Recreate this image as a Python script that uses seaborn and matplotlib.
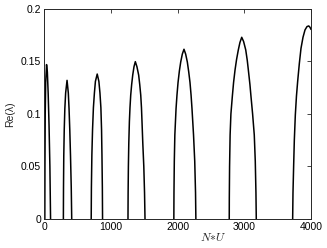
import matplotlib
matplotlib.use("Agg")
import matplotlib.pyplot as plt
import seaborn as sns
import pandas as pd

# ---- data (N*U vs Re(lambda)), one arc per lobe ----
b1_x = [12, 14, 18, 25, 38, 50, 62, 75, 88, 98]
b1_y = [0.0, 0.05, 0.1, 0.13, 0.147, 0.14, 0.12, 0.09, 0.05, 0.0]

b2_x = [290, 292, 296, 303, 312, 324, 345, 364, 375, 386, 397, 408, 415]
b2_y = [0.0, 0.03, 0.06, 0.085, 0.105, 0.12, 0.132, 0.12, 0.105, 0.085, 0.06, 0.03, 0.0]

b3_x = [707, 710, 717, 727, 740, 755, 770, 797, 822, 838, 852, 862, 868, 874, 877]
b3_y = [0.0, 0.03, 0.061, 0.085, 0.106, 0.12, 0.131, 0.138, 0.131, 0.12, 0.106, 0.085, 0.061, 0.03, 0.0]

b4_x = [1258, 1260, 1264, 1270, 1279, 1288, 1299, 1313, 1329, 1348, 1368,
        1392, 1418, 1434, 1449, 1460, 1468, 1480, 1495, 1506, 1513]
b4_y = [0.0, 0.025, 0.05, 0.072, 0.0927, 0.106, 0.118, 0.128, 0.137, 0.145, 0.1498,
        0.145, 0.137, 0.128, 0.118, 0.106, 0.0927, 0.072, 0.05, 0.025, 0.0]

b5_x = [1945, 1947, 1952, 1960, 1978, 1992, 2008, 2028, 2048, 2072, 2097,
        2122, 2147, 2168, 2187, 2203, 2217, 2240, 2258, 2270, 2275]
b5_y = [0.0, 0.025, 0.055, 0.08, 0.105, 0.118, 0.13, 0.141, 0.1495, 0.157, 0.1616,
        0.157, 0.1495, 0.14, 0.13, 0.118, 0.105, 0.08, 0.055, 0.025, 0.0]

b6_x = [2775, 2776, 2780, 2788, 2800, 2821, 2840, 2862, 2885, 2911, 2935, 2962,
        2990, 3022, 3045, 3061, 3085, 3101, 3125, 3150, 3165, 3175, 3180]
b6_y = [0.0, 0.02, 0.05, 0.08, 0.1, 0.1165, 0.13, 0.142, 0.152, 0.161, 0.168, 0.173,
        0.169, 0.161, 0.151, 0.142, 0.128, 0.1165, 0.1, 0.08, 0.055, 0.025, 0.0]

b7_x = [3725, 3730, 3740, 3750, 3765, 3782, 3800, 3825, 3850, 3880, 3910, 3940, 3966, 3985, 4000]
b7_y = [0.0, 0.025, 0.051, 0.075, 0.099, 0.117, 0.131, 0.148, 0.1625, 0.173, 0.18, 0.1832, 0.1838, 0.1825, 0.1805]

x_ticks = [0, 1000, 2000, 3000, 4000]
y_ticks = [0, 0.05, 0.1, 0.15, 0.2]
y_ticklabels = ["0", "0.05", "0.1", "0.15", "0.2"]

# ---- style ----
sns.set_style("white", {
    "xtick.direction": "in", "ytick.direction": "in",
    "xtick.top": True, "ytick.right": True,
    "axes.edgecolor": "#262626",
})
plt.rcParams["font.family"] = ["Liberation Sans", "DejaVu Sans"]
plt.rcParams["mathtext.fontset"] = "cm"

fig = plt.figure(figsize=(3.27, 2.48), dpi=100)
ax = fig.add_axes([0.1346, 0.117, 0.8165, 0.847])

bumps = [(b1_x, b1_y), (b2_x, b2_y), (b3_x, b3_y), (b4_x, b4_y),
         (b5_x, b5_y), (b6_x, b6_y), (b7_x, b7_y)]
for bx, by in bumps:
    df = pd.DataFrame({"x": bx, "y": by})
    sns.lineplot(data=df, x="x", y="y", ax=ax, sort=False, estimator=None,
                 color="black", linewidth=1.1)

ax.set_xlim(0, 4000)
ax.set_ylim(0, 0.2)
ax.set_xticks(x_ticks)
ax.set_xticklabels([str(t) for t in x_ticks])
ax.set_yticks(y_ticks)
ax.set_yticklabels(y_ticklabels)
ax.tick_params(axis="both", which="both", labelsize=7.5, length=3, width=0.6,
               colors="#262626", labelcolor="black", pad=2,
               top=True, right=True)
for s in ax.spines.values():
    s.set_linewidth(0.7)
    s.set_visible(True)

ax.set_xlabel(r"$N{*}U$", fontsize=8.5)
ax.xaxis.set_label_coords(0.635, -0.06)
ax.set_ylabel("Re(λ)", fontsize=7.5)
ax.yaxis.set_label_coords(-0.108, 0.5)

fig.savefig("out.png", dpi=100)
